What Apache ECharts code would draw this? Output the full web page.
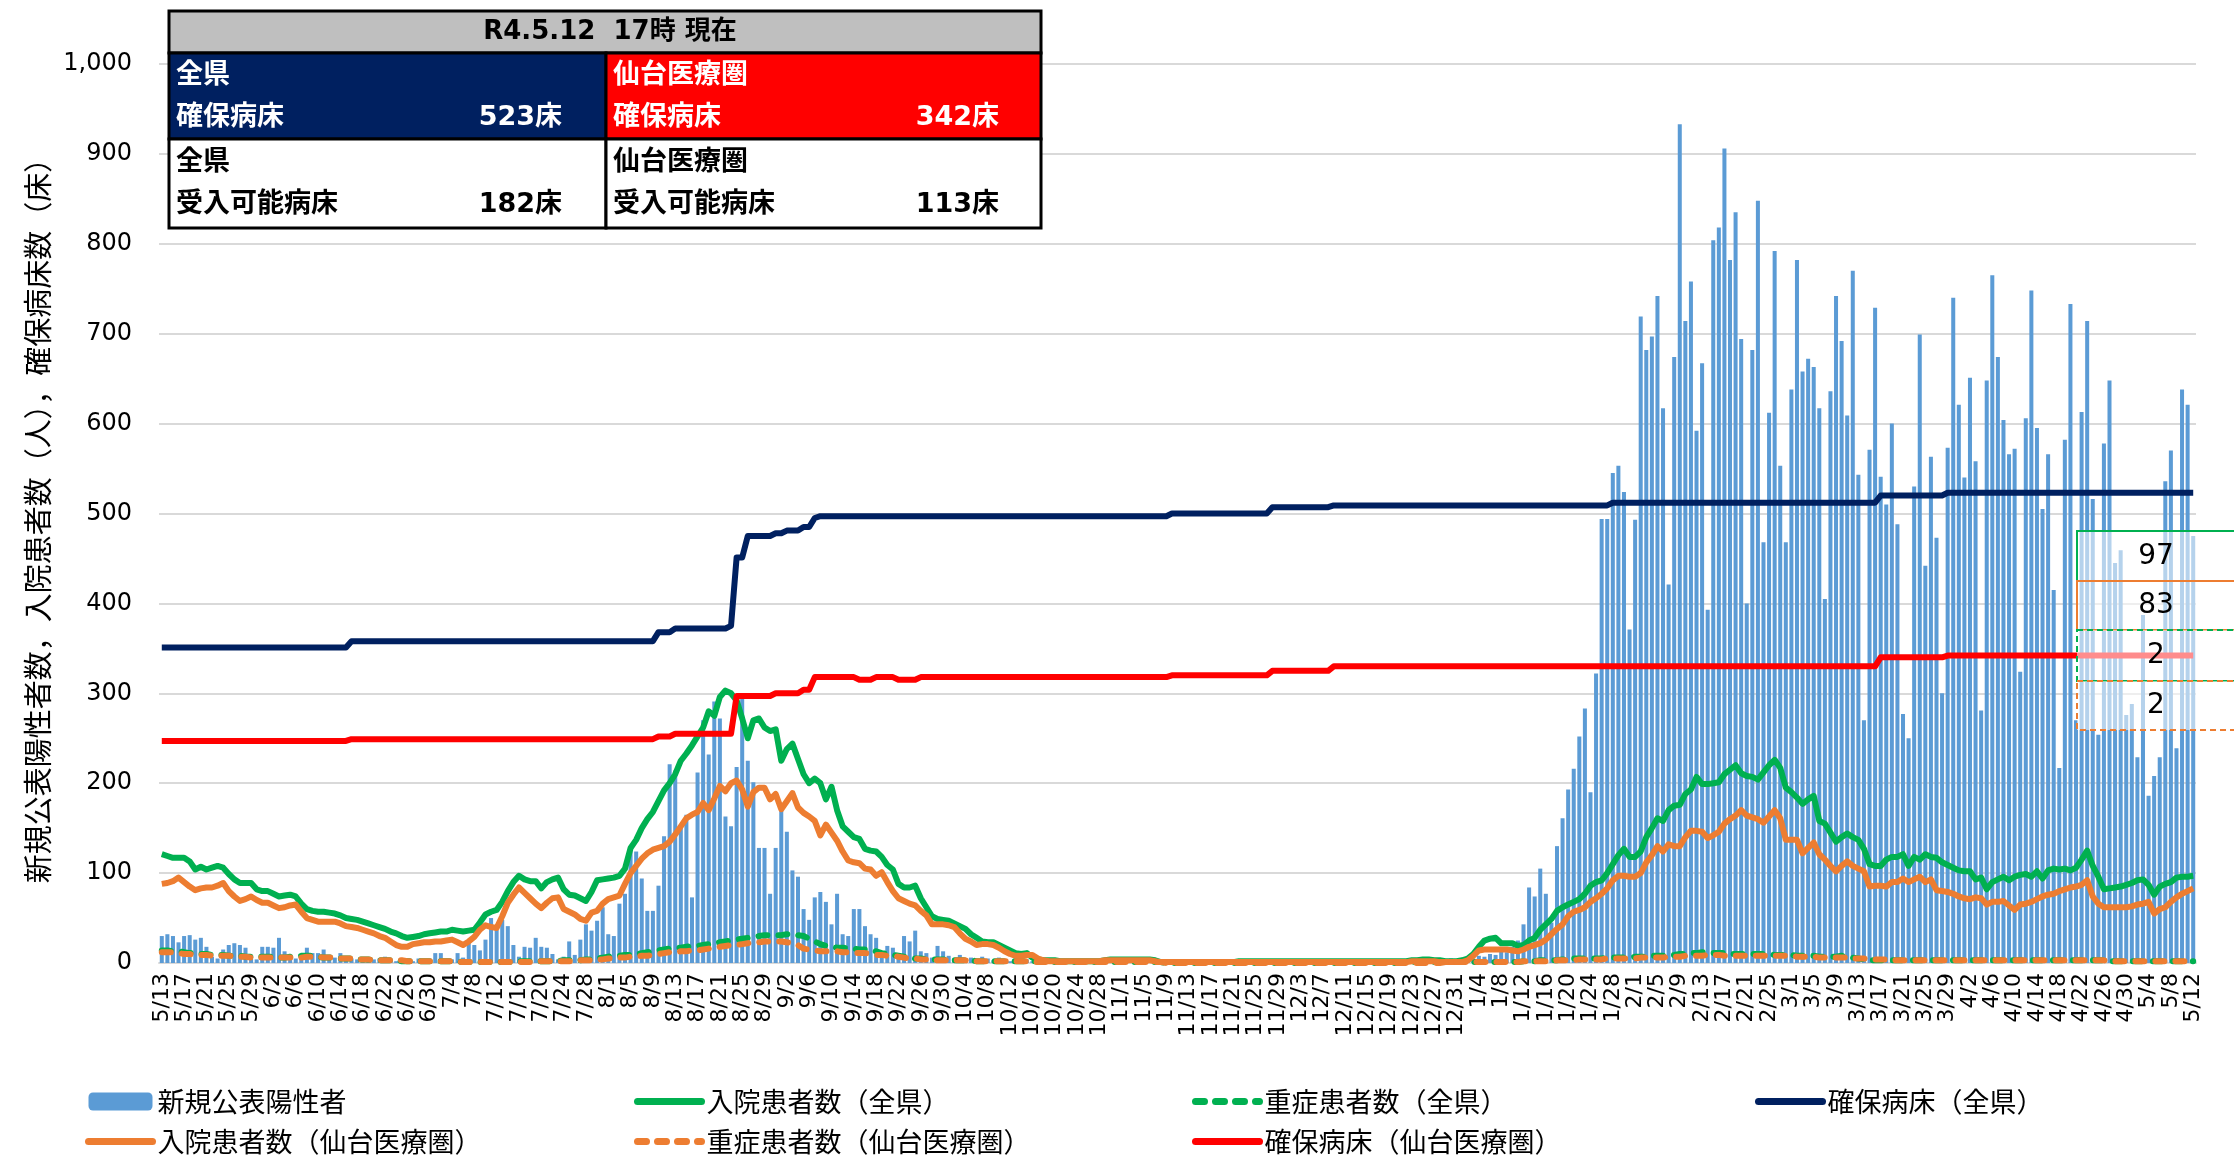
<!DOCTYPE html>
<html><head><meta charset="utf-8">
<script src="https://cdn.jsdelivr.net/npm/echarts/dist/echarts.min.js"></script>
<style>html,body{margin:0;padding:0;background:#fff}#c{width:2234px;height:1155px}</style>
</head><body><div id="c"></div>
<script>
// ---- categories: daily 2021/5/13 .. 2022/5/12 ----
const startYear = 2021, startMonth = 5, startDay = 13, dayCount = 365;
const categories = [];
for (let i = 0; i < dayCount; i++) {
  const dt = new Date(startYear, startMonth - 1, startDay + i);
  categories.push((dt.getMonth() + 1) + '/' + dt.getDate());
}
const yTicks = [0,100,200,300,400,500,600,700,800,900,1000];

// 新規公表陽性者
const newCases = [
30,32,30,23,30,31,26,28,18,7, 5,15,20,22,20,17,9,4,18,18, 17,28,13,7,5,6,17,11,11,15, 9,6,11,7,5,4,3,6,4,5,
7,3,2,3,4,2,5,3,4,11, 11,3,4,11,6,22,20,14,26,50, 37,48,41,20,7,18,17,28,18,17, 10,4,7,24,9,26,43,36,47,62,
32,30,66,77,126,124,94,58,58,86, 141,221,214,152,165,73,212,270,232,291, 272,163,152,218,298,225,201,128,128,77, 128,169,146,103,96,60,48,73,79,68,
43,77,32,30,60,60,41,32,28,13, 19,17,11,30,24,36,13,11,6,19, 13,8,5,9,4,6,3,7,5,3, 6,4,2,5,3,4,2,3,1,2,
3,1,2,0,1,2,1,3,1,0, 2,1,0,1,1,0,2,0,1,0, 1,0,0,1,0,1,0,0,0,1, 0,0,1,0,0,1,0,0,2,0,
1,0,0,1,0,0,1,2,0,1, 3,1,2,0,1,2,1,0,1,2, 1,3,2,1,2,1,4,2,3,1, 2,5,3,4,6,5,8,7,10,9,
14,12,18,25,43,84,74,105,77,45, 130,161,193,216,252,283,190,322,494,494, 545,553,524,371,493,719,682,697,742,617, 421,674,933,714,758,592,667,393,804,818,
906,782,835,694,400,682,848,468,612,792, 553,468,638,782,658,672,663,617,405,636, 742,692,609,770,543,270,571,729,541,510, 600,488,277,250,530,699,442,563,473,300,
573,740,621,540,651,558,281,648,765,674, 604,566,572,324,606,748,595,505,566,415, 217,582,733,270,613,714,516,254,578,648, 445,459,276,288,229,387,186,208,229,536,
570,239,638,621,475];

// 入院患者数（全県）
const inpatientPref = [
121,119,117,117,117,113,104,107,104,106, 108,106,99,93,89,89,89,82,80,80, 77,74,75,76,74,66,60,58,57,57, 56,55,53,50,49,48,46,44,42,40,
38,35,33,30,28,29,30,32,33,34, 35,35,37,36,35,36,37,45,54,57, 59,68,80,90,97,93,91,91,83,90, 93,95,82,76,75,72,69,79,92,93,
94,95,97,105,128,137,150,160,168,180, 192,200,210,225,233,242,252,262,280,275, 296,303,300,292,272,250,270,272,262,258, 260,225,238,244,227,210,200,205,200,182,
196,170,152,146,140,138,127,125,124,118, 109,104,88,84,84,86,72,62,52,49, 48,47,44,41,38,32,28,24,23,23, 20,17,14,11,10,11,6,4,3,3,
3,2,2,2,2,2,2,2,2,3, 4,4,4,4,4,4,4,4,3,1, 1,1,1,1,1,1,1,1,1,1, 1,1,1,2,2,2,2,2,2,2,
2,2,2,2,2,2,2,2,2,2, 2,2,2,2,2,2,2,2,2,2, 2,2,2,2,3,3,4,4,3,3, 2,2,2,3,5,10,18,25,27,28,
22,22,22,19,20,25,28,37,43,49, 58,62,65,68,71,77,86,90,92,100, 110,120,127,118,118,124,140,150,161,158, 170,175,176,188,193,207,199,199,200,201,
210,215,220,211,208,207,204,212,220,226, 217,195,190,184,177,182,186,158,155,145, 135,140,144,140,137,127,110,108,108,115, 118,118,121,108,118,115,121,118,117,112,
109,106,103,102,102,93,95,82,90,93, 96,92,96,98,99,96,102,94,103,105, 104,105,103,106,115,125,108,96,82,83, 84,85,87,89,92,93,87,76,85,88,
90,95,96,96,97];

// 重症患者数（全県）
const severePref = [
14,14,13,13,12,11,11,10,10,9, 9,9,8,8,8,7,7,7,7,7, 7,6,6,7,7,8,8,8,7,6, 6,6,5,5,5,4,4,4,3,3,
3,3,3,2,2,2,2,2,2,2, 2,2,2,2,1,1,1,1,1,1, 1,1,1,1,2,2,2,2,2,2, 2,2,3,3,3,3,4,4,5,6,
7,8,8,9,9,10,11,12,13,14, 15,16,17,17,18,19,19,20,21,22, 23,24,25,26,27,28,29,30,31,31, 31,31,32,32,31,30,27,24,21,19,
18,17,17,16,16,15,15,14,13,11, 10,9,8,7,6,5,5,4,4,4, 4,3,3,3,3,3,2,2,2,2, 2,2,2,2,2,2,2,2,1,1,
1,1,1,1,1,1,1,1,1,1, 1,1,1,1,1,1,1,1,1,1, 0,0,0,0,0,0,0,0,0,0, 0,0,0,0,0,0,0,0,0,0,
0,0,0,0,0,0,0,0,0,0, 0,0,0,0,0,0,0,0,0,0, 0,0,0,0,1,1,1,1,1,1, 1,1,1,1,1,1,1,1,1,1,
1,1,1,1,2,2,2,3,3,3, 3,4,4,5,5,5,5,5,5,6, 6,6,6,6,7,7,7,8,8,8, 9,9,10,10,11,11,12,12,11,11,
11,10,10,10,10,10,10,10,10,9, 9,9,9,8,8,8,8,7,7,7, 7,8,7,6,5,4,3,3,3,3, 3,3,3,3,3,3,3,3,3,3,
3,3,3,3,3,3,3,3,3,3, 3,3,3,3,3,3,3,3,3,3, 3,3,3,3,3,3,3,3,3,2, 2,2,2,2,2,2,2,2,2,2,
2,2,2,2,2];

// 確保病床（全県）
const bedsPref = [
351,351,351,351,351,351,351,351,351,351, 351,351,351,351,351,351,351,351,351,351, 351,351,351,351,351,351,351,351,351,351, 351,351,351,351,358,358,358,358,358,358,
358,358,358,358,358,358,358,358,358,358, 358,358,358,358,358,358,358,358,358,358, 358,358,358,358,358,358,358,358,358,358, 358,358,358,358,358,358,358,358,358,358,
358,358,358,358,358,358,358,358,358,368, 368,368,372,372,372,372,372,372,372,372, 372,372,375,451,451,475,475,475,475,475, 478,478,481,481,481,485,485,495,497,497,
497,497,497,497,497,497,497,497,497,497, 497,497,497,497,497,497,497,497,497,497, 497,497,497,497,497,497,497,497,497,497, 497,497,497,497,497,497,497,497,497,497,
497,497,497,497,497,497,497,497,497,497, 497,497,497,497,497,497,497,497,497,497, 497,500,500,500,500,500,500,500,500,500, 500,500,500,500,500,500,500,500,500,507,
507,507,507,507,507,507,507,507,507,507, 509,509,509,509,509,509,509,509,509,509, 509,509,509,509,509,509,509,509,509,509, 509,509,509,509,509,509,509,509,509,509,
509,509,509,509,509,509,509,509,509,509, 509,509,509,509,509,509,509,509,509,509, 512,512,512,512,512,512,512,512,512,512, 512,512,512,512,512,512,512,512,512,512,
512,512,512,512,512,512,512,512,512,512, 512,512,512,512,512,512,512,512,512,512, 512,512,512,512,512,512,512,512,520,520, 520,520,520,520,520,520,520,520,520,520,
523,523,523,523,523,523,523,523,523,523, 523,523,523,523,523,523,523,523,523,523, 523,523,523,523,523,523,523,523,523,523, 523,523,523,523,523,523,523,523,523,523,
523,523,523,523,523];

// 入院患者数（仙台医療圏）
const inpatientSendai = [
88,89,91,95,90,85,81,83,84,84, 86,89,80,74,69,71,74,70,67,67, 64,61,62,64,65,57,50,48,46,46, 46,46,44,41,40,39,37,35,33,30,
28,24,20,18,18,21,22,23,23,24, 24,25,26,23,20,24,29,37,42,40, 39,52,67,76,84,78,72,66,61,67, 72,73,60,57,54,49,47,56,58,66,
71,73,75,88,100,108,116,122,126,128, 130,135,143,152,161,165,168,178,170,183, 197,191,200,203,193,174,190,195,195,182, 188,171,180,189,173,167,163,158,142,154,
145,136,124,114,112,111,105,104,97,101, 90,80,72,69,66,64,58,53,43,43, 43,42,40,33,27,24,20,21,21,20, 17,13,10,8,8,9,9,5,3,2,
2,2,2,2,2,2,2,2,2,3, 3,3,3,3,3,3,3,3,2,1, 1,1,1,1,1,1,1,1,1,1, 1,1,1,1,1,1,1,1,1,1,
1,1,1,1,1,1,1,1,1,1, 1,1,1,1,1,1,1,1,1,1, 1,1,1,1,2,2,2,2,2,1, 1,1,1,1,3,8,14,15,15,15,
15,15,14,13,15,18,20,22,26,32, 38,43,52,57,59,62,68,72,77,83, 92,97,97,96,96,100,112,120,130,124, 132,130,130,140,147,147,146,139,142,146,
155,160,164,170,164,162,160,156,163,170, 161,137,137,137,122,128,134,121,115,108, 102,108,113,108,105,102,85,86,86,85, 90,90,94,90,93,96,90,93,81,80,
79,77,74,72,71,73,72,65,68,68, 69,64,59,65,66,68,71,74,76,77, 80,82,84,85,87,92,74,66,62,62, 62,62,62,63,65,66,68,55,60,62,
68,73,77,80,83];

// 重症患者数（仙台医療圏）
const severeSendai = [
12,12,12,11,10,10,9,9,9,8, 8,8,8,7,7,7,6,6,6,6, 6,6,6,6,6,6,7,7,7,6, 6,6,5,5,5,4,4,4,3,3,
3,3,3,3,2,2,2,2,2,2, 2,2,2,1,1,1,1,1,1,1, 1,1,1,1,1,1,1,1,2,2, 2,2,2,2,2,3,3,3,4,4,
5,5,6,6,7,7,8,8,9,10, 11,12,12,13,13,14,14,15,16,17, 18,19,20,20,21,22,23,23,24,24, 24,24,23,22,20,16,15,14,13,13,
13,13,12,12,11,11,11,10,9,9, 8,8,7,6,5,5,4,4,4,3, 3,3,3,3,3,2,2,2,2,2, 2,2,2,2,2,2,1,1,1,1,
1,1,1,1,1,1,1,1,1,1, 1,1,1,1,1,1,1,1,1,1, 0,0,0,0,0,0,0,0,0,0, 0,0,0,0,0,0,0,0,0,0,
0,0,0,0,0,0,0,0,0,0, 0,0,0,0,0,0,0,0,0,0, 0,0,0,0,0,0,0,0,0,0, 1,1,1,1,1,1,1,1,1,1,
1,1,1,1,2,2,2,2,2,2, 3,3,3,3,4,4,4,4,4,5, 5,5,5,5,5,6,6,6,6,6, 7,7,7,8,8,8,8,9,9,9,
8,8,8,8,8,8,8,8,8,8, 8,8,8,7,7,7,7,6,6,6, 6,6,6,5,5,5,4,4,4,4, 3,3,3,3,3,3,3,3,3,3,
3,3,3,3,3,3,3,3,3,3, 3,3,3,3,3,3,3,3,3,3, 3,3,3,3,3,3,3,3,3,2, 2,2,2,2,2,2,2,2,2,2,
2,2,2,2,2];

// 確保病床（仙台医療圏）
const bedsSendai = [
247,247,247,247,247,247,247,247,247,247, 247,247,247,247,247,247,247,247,247,247, 247,247,247,247,247,247,247,247,247,247, 247,247,247,247,249,249,249,249,249,249,
249,249,249,249,249,249,249,249,249,249, 249,249,249,249,249,249,249,249,249,249, 249,249,249,249,249,249,249,249,249,249, 249,249,249,249,249,249,249,249,249,249,
249,249,249,249,249,249,249,249,249,252, 252,252,255,255,255,255,255,255,255,255, 255,255,255,297,297,297,297,297,297,297, 300,300,300,300,300,304,304,318,318,318,
318,318,318,318,318,315,315,315,318,318, 318,318,315,315,315,315,318,318,318,318, 318,318,318,318,318,318,318,318,318,318, 318,318,318,318,318,318,318,318,318,318,
318,318,318,318,318,318,318,318,318,318, 318,318,318,318,318,318,318,318,318,318, 318,320,320,320,320,320,320,320,320,320, 320,320,320,320,320,320,320,320,320,325,
325,325,325,325,325,325,325,325,325,325, 330,330,330,330,330,330,330,330,330,330, 330,330,330,330,330,330,330,330,330,330, 330,330,330,330,330,330,330,330,330,330,
330,330,330,330,330,330,330,330,330,330, 330,330,330,330,330,330,330,330,330,330, 330,330,330,330,330,330,330,330,330,330, 330,330,330,330,330,330,330,330,330,330,
330,330,330,330,330,330,330,330,330,330, 330,330,330,330,330,330,330,330,330,330, 330,330,330,330,330,330,330,330,340,340, 340,340,340,340,340,340,340,340,340,340,
342,342,342,342,342,342,342,342,342,342, 342,342,342,342,342,342,342,342,342,342, 342,342,342,342,342,342,342,342,342,342, 342,342,342,342,342,342,342,342,342,342,
342,342,342,342,342];

// summary table
const tableTitle = 'R4.5.12  17時 現在';
const availPref = 182, availSendai = 113;

// ---------------------------------------------------------
const C = {blue:'#5b9bd5', green:'#00b050', navy:'#002060', orange:'#ed7d31', red:'#ff0000'};
const CJK = '"Noto Sans CJK JP"';
const TBLFONT = 'bold 27px "DejaVu Sans", "Noto Sans CJK JP"';
const last = a => a[a.length - 1];
const DASH = [9, 11];

function lineSeries(name, data, color, dashed) {
  return {
    name, type: 'line', data, symbol: 'none', showSymbol: false, smooth: false,
    lineStyle: dashed ? {color, width: 6, type: DASH, cap: 'round', join: 'round'}
                      : {color, width: 6, join: 'round'},
    itemStyle: {color}, emphasis: {disabled: true}
  };
}

const barName = '新規公表陽性者';
const dashedNames = ['重症患者数（全県）', '重症患者数（仙台医療圏）'];
function legendItem(n) {
  if (n === barName) return {name: n};
  const dashed = dashedNames.indexOf(n) >= 0;
  return {name: n, itemStyle: {opacity: 0},
    lineStyle: dashed ? {width: 7, type: [9, 11], cap: 'round'} : {width: 7, cap: 'round'}};
}
function legendCol(left, names) {
  return {
    data: names.map(legendItem),
    orient: 'vertical', left, top: 1088, height: 140, padding: 0,
    itemWidth: 64, itemHeight: 18, itemGap: 13,
    selectedMode: false,
    textStyle: {fontFamily: CJK, fontSize: 27, color: '#000', lineHeight: 26}
  };
}

const tx = (text, x, y, align, color, font) => ({
  type: 'text', x, y, z: 110,
  style: {text, fill: color, font: font || TBLFONT,
    align, textAlign: align, verticalAlign: 'middle', textVerticalAlign: 'middle'}
});
const rc = (x, y, w, h, fill, stroke, lw, dash) => ({
  type: 'rect', z: 100, shape: {x, y, width: w, height: h},
  style: {fill, stroke, lineWidth: lw, lineDash: dash || null}
});
const LBL = '28px "DejaVu Sans"';

const graphics = [
  rc(169, 11, 872, 42, '#bfbfbf', '#000', 3),
  rc(169, 53, 437, 86, C.navy, '#000', 3),
  rc(606, 53, 435, 86, C.red, '#000', 3),
  rc(169, 139, 437, 89, '#fff', '#000', 3),
  rc(606, 139, 435, 89, '#fff', '#000', 3),
  tx(tableTitle, 610, 32, 'center', '#000', 'bold 26px "DejaVu Sans", "Noto Sans CJK JP"'),
  tx('全県', 176, 76, 'left', '#fff'),
  tx('確保病床', 176, 118, 'left', '#fff'),
  tx(last(bedsPref) + '床', 562, 118, 'right', '#fff'),
  tx('仙台医療圏', 613, 76, 'left', '#fff'),
  tx('確保病床', 613, 118, 'left', '#fff'),
  tx(last(bedsSendai) + '床', 999, 118, 'right', '#fff'),
  tx('全県', 176, 163, 'left', '#000'),
  tx('受入可能病床', 176, 205, 'left', '#000'),
  tx(availPref + '床', 562, 205, 'right', '#000'),
  tx('仙台医療圏', 613, 163, 'left', '#000'),
  tx('受入可能病床', 613, 205, 'left', '#000'),
  tx(availSendai + '床', 999, 205, 'right', '#000'),
  // end-value boxes
  rc(2077, 531, 180, 50, 'rgba(255,255,255,0.55)', C.green, 2),
  rc(2077, 581, 180, 49, 'rgba(255,255,255,0.55)', C.orange, 2),
  rc(2077, 630, 180, 51, 'rgba(255,255,255,0.55)', C.green, 2, [6, 4]),
  rc(2077, 681, 180, 49, 'rgba(255,255,255,0.55)', C.orange, 2, [6, 4]),
  tx(String(last(inpatientPref)), 2156, 557, 'center', '#000', LBL),
  tx(String(last(inpatientSendai)), 2156, 606, 'center', '#000', LBL),
  tx(String(last(severePref)), 2156, 656, 'center', '#000', LBL),
  tx(String(last(severeSendai)), 2156, 706, 'center', '#000', LBL)
];

const chart = echarts.init(document.getElementById('c'));
chart.setOption({
  animation: false,
  backgroundColor: '#fff',
  grid: {left: 159, right: 38, top: 64, bottom: 192, containLabel: false},
  xAxis: {
    type: 'category', data: categories, boundaryGap: true,
    axisLine: {lineStyle: {color: '#d9d9d9', width: 2}},
    axisTick: {interval: 3, length: 7, lineStyle: {color: '#d9d9d9', width: 2}},
    axisLabel: {interval: 3, rotate: 90, margin: 10, showMinLabel: true, showMaxLabel: true, hideOverlap: false,
      fontFamily: '"DejaVu Sans"', fontSize: 22, color: '#000'},
    splitLine: {show: false}
  },
  yAxis: {
    type: 'value', min: yTicks[0], max: yTicks[yTicks.length - 1], interval: 100,
    name: '新規公表陽性者数，入院患者数（人），確保病床数（床）',
    nameLocation: 'middle', nameRotate: 90, nameGap: 101,
    nameTextStyle: {fontFamily: CJK, fontSize: 29, color: '#000'},
    axisLine: {show: false}, axisTick: {show: false},
    axisLabel: {margin: 27, fontFamily: '"DejaVu Sans"', fontSize: 24, color: '#000',
      formatter: v => v.toLocaleString('en-US')},
    splitLine: {lineStyle: {color: '#d9d9d9', width: 2}}
  },
  legend: [
    legendCol(85, [barName, '入院患者数（仙台医療圏）']),
    legendCol(634, ['入院患者数（全県）', '重症患者数（仙台医療圏）']),
    legendCol(1192, ['重症患者数（全県）', '確保病床（仙台医療圏）']),
    legendCol(1755, ['確保病床（全県）'])
  ],
  series: [
    {name: barName, type: 'bar', data: newCases, barCategoryGap: '28%',
     itemStyle: {color: C.blue}, emphasis: {disabled: true}},
    lineSeries('入院患者数（全県）', inpatientPref, C.green, false),
    lineSeries('重症患者数（全県）', severePref, C.green, true),
    lineSeries('確保病床（全県）', bedsPref, C.navy, false),
    lineSeries('入院患者数（仙台医療圏）', inpatientSendai, C.orange, false),
    lineSeries('重症患者数（仙台医療圏）', severeSendai, C.orange, true),
    lineSeries('確保病床（仙台医療圏）', bedsSendai, C.red, false)
  ],
  graphic: graphics
});
</script></body></html>
